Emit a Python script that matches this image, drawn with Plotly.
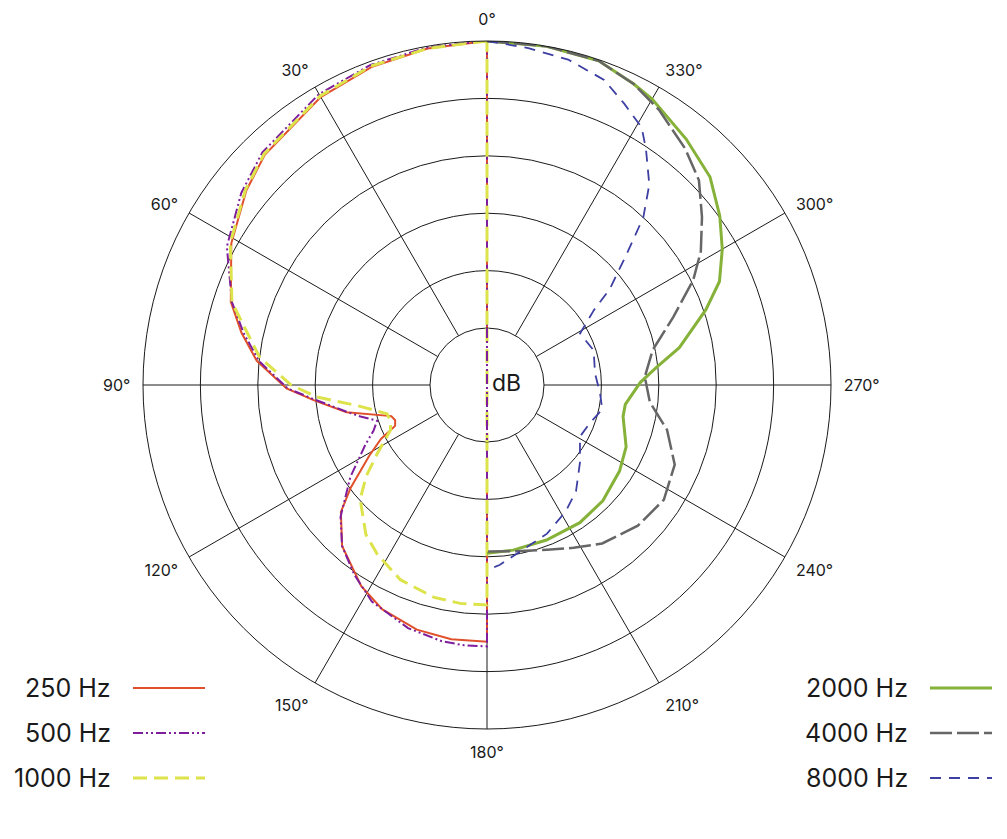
import plotly.graph_objects as go

# ---------------- data (angle in degrees, level in dB) ----------------
theta_250 = [0, 10, 20, 30, 44, 51, 61, 72, 78, 84, 91, 95, 101, 108, 111, 114, 117, 121, 127, 131, 138, 148, 155, 164, 172, 180]
db_250 = [0, -0.2, -0.5, -1.0, -2.1, -3.0, -4.5, -6.5, -8.1, -9.8, -12.5, -14.8, -17.5, -21.2, -21.4, -21.2, -19.6, -18.0, -15.1, -13.1, -11.1, -9.3, -8.4, -7.8, -7.6, -7.6]

theta_500 = [0, 10, 20, 30, 44, 52, 62, 72, 78, 84, 91, 95, 101, 104, 108, 112, 116, 124, 132, 138, 145, 152, 162, 170, 175, 180]
db_500 = [0, -0.1, -0.3, -0.7, -1.8, -2.8, -4.3, -6.6, -8.3, -10.0, -12.6, -15.0, -17.6, -18.6, -19.9, -19.3, -18.2, -15.6, -12.8, -11.1, -9.8, -8.6, -7.7, -7.3, -7.2, -7.2]

theta_1000 = [0, 10, 20, 30, 44, 51, 61, 72, 83, 90, 94, 99, 106, 110, 115, 122, 127, 132, 141, 147, 156, 166, 173, 180]
db_1000 = [0, -0.2, -0.4, -0.9, -2.0, -2.9, -4.4, -6.6, -10.0, -12.9, -15.1, -18.5, -20.9, -21.0, -20.7, -18.7, -16.8, -15.1, -13.2, -12.4, -11.4, -10.9, -10.8, -10.8]

theta_2000 = [360, 350, 341, 334, 330, 321, 313, 306, 300, 294, 289, 281, 276, 271, 262, 257, 246, 237, 225, 214, 201, 189, 180]
db_2000 = [0, 0, -0.1, -0.8, -1.2, -2.4, -3.4, -4.9, -6.3, -7.8, -9.8, -12.9, -15.1, -16.6, -17.8, -17.8, -16.7, -16.2, -15.7, -15.5, -15.5, -15.4, -15.3]

theta_4000 = [360, 350, 341, 334, 328, 320, 314, 308, 302, 297, 290, 282, 273, 264, 256, 251, 247, 237, 227, 216, 208, 200, 189, 180]
db_4000 = [0, 0, -0.1, -0.8, -1.7, -3.1, -4.3, -6.2, -8.0, -9.8, -12.7, -15.2, -16.2, -15.7, -13.8, -13.0, -12.2, -11.6, -12.0, -12.9, -13.9, -14.7, -15.3, -15.45]

theta_8000 = [360, 353, 346, 339, 334, 329, 326, 321, 317, 313, 308, 305, 299, 288, 276, 266, 258, 250, 241, 230, 220, 212, 202, 192, 184, 180]
db_8000 = [0, -0.4, -0.75, -1.5, -2.7, -3.8, -5.2, -7.5, -10.0, -13.4, -16.4, -18.6, -20.7, -20.2, -20.5, -20.1, -19.7, -20.4, -20.7, -19.4, -17.9, -17.0, -16.0, -15.25, -14.25, -13.85]

angle_ticks = [0, 30, 60, 90, 120, 150, 180, 210, 240, 270, 300, 330]
angle_labels = [f"{a}°" for a in angle_ticks]
db_rings = [-25, -20, -15, -10, -5, 0]

# ---------------- styles ----------------
FONT = "Inter"
W, H = 1007, 839
CX, CY, R = 487, 385, 344
HOLE_R = 57

series = [
    # name, theta, r, color, width, dash, close, legend side
    ("250 Hz", theta_250, db_250, "#E0502B", 2, "solid", True, "left"),
    ("500 Hz", theta_500, db_500, "#7E1E9C", 2, "10px,3px,2px,3px,2px,3px", True, "left"),
    ("1000 Hz", theta_1000, db_1000, "#DDE34B", 3, "14px,7px", True, "left"),
    ("2000 Hz", theta_2000, db_2000, "#86B23A", 3, "solid", False, "right"),
    ("4000 Hz", theta_4000, db_4000, "#666666", 2.5, "22px,5px", False, "right"),
    ("8000 Hz", theta_8000, db_8000, "#3D3FA3", 1.8, "11px,8px", False, "right"),
]

fig = go.Figure()
for name, th, rr, col, w, dash, close, side in series:
    th = list(th)
    rr = list(rr)
    if close:
        th = th + [th[0]]
        rr = rr + [rr[0]]
    fig.add_trace(go.Scatterpolar(
        theta=th, r=rr, mode="lines", name=name,
        line=dict(color=col, width=w, dash=dash),
        showlegend=False,
    ))

dom_x = [(CX - R) / W, (CX + R) / W]
dom_y = [(H - CY - R) / H, (H - CY + R) / H]

fig.update_layout(
    width=W, height=H,
    margin=dict(l=0, r=0, t=0, b=0),
    paper_bgcolor="white",
    plot_bgcolor="white",
    font=dict(family=FONT, color="#1a1a1a"),
    polar=dict(
        domain=dict(x=dom_x, y=dom_y),
        hole=HOLE_R / R,
        bgcolor="white",
        radialaxis=dict(
            range=[-25, 0], tickvals=db_rings, showticklabels=False,
            ticks="", showline=False, gridcolor="#1a1a1a", gridwidth=1,
        ),
        angularaxis=dict(
            rotation=90, direction="counterclockwise",
            tickvals=angle_ticks, ticktext=angle_labels,
            showline=True, linecolor="#1a1a1a", linewidth=1,
            gridcolor="#1a1a1a", gridwidth=1,
            ticks="outside", ticklen=9, tickcolor="rgba(0,0,0,0)",
            tickfont=dict(size=16, family=FONT, color="#1a1a1a"),
        ),
    ),
)

# closing line of the low-frequency curves continues through the centre hole
for col, w, dash in [("#DDE34B", 3, "14px,7px"), ("#7E1E9C", 2, "10px,3px,2px,3px,2px,3px")]:
    fig.add_shape(type="line", xref="paper", yref="paper",
                  x0=CX / W, x1=CX / W, y0=1 - (CY - HOLE_R) / H, y1=1 - (CY + HOLE_R) / H,
                  line=dict(color=col, width=w, dash=dash), layer="above")

# centre label
fig.add_annotation(x=(CX + 19) / W, y=(H - CY + 2) / H, xref="paper", yref="paper",
                   text="dB", showarrow=False, font=dict(size=23, family=FONT, color="#1a1a1a"))

# legend (text then line sample)
legend_rows_y = [688, 733, 778]
left_i = right_i = 0
for name, th, rr, col, w, dash, close, side in series:
    if side == "left":
        y = legend_rows_y[left_i]; left_i += 1
        tx, lx0, lx1 = 113, 133, 205
    else:
        y = legend_rows_y[right_i]; right_i += 1
        tx, lx0, lx1 = 910, 930, 992
    fig.add_annotation(x=tx / W, y=1 - y / H, xref="paper", yref="paper",
                       xanchor="right", yanchor="middle", text=name, showarrow=False,
                       font=dict(size=25, family=FONT, color="#1a1a1a"))
    fig.add_shape(type="line", xref="paper", yref="paper",
                  x0=lx0 / W, x1=lx1 / W, y0=1 - y / H, y1=1 - y / H,
                  line=dict(color=col, width=w, dash=dash))

fig.write_html("out.html", config={"displayModeBar": False},
               post_script="document.body.style.margin='0';document.body.style.padding='0';")
